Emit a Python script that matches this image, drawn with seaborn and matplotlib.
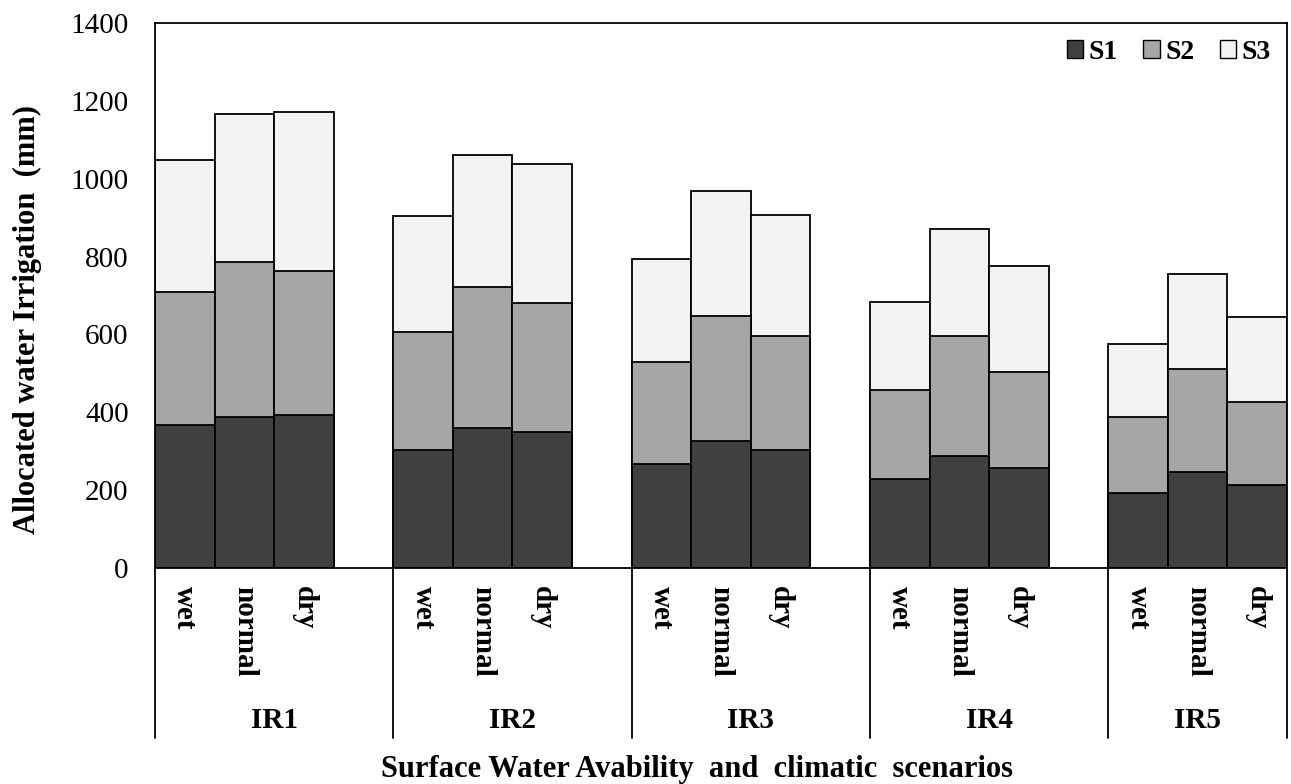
import matplotlib
matplotlib.use("Agg")
import matplotlib.pyplot as plt
import pandas as pd
import seaborn as sns
from matplotlib.patches import Patch

# values (mm), one entry per group x scenario
groups = ["IR1", "IR2", "IR3", "IR4", "IR5"]
scenarios = ["wet", "normal", "dry"]
s1 = [368, 389, 394, 304, 360, 350, 268, 327, 304, 229, 288, 257, 193, 247, 214]
s2 = [342, 398, 370, 301, 363, 332, 262, 321, 293, 227, 309, 247, 196, 265, 213]
s3 = [337, 379, 407, 298, 337, 355, 265, 320, 311, 228, 275, 273, 187, 242, 219]
series = ["S1", "S2", "S3"]
colors = {"S1": "#404040", "S2": "#a6a6a6", "S3": "#f2f2f2"}

sns.set_theme(style="white")
plt.rcParams["font.family"] = ["Liberation Serif", "DejaVu Serif"]
plt.rcParams["text.color"] = "black"
plt.rcParams["xtick.color"] = "black"
plt.rcParams["ytick.color"] = "black"
plt.rcParams["xtick.labelcolor"] = "black"
plt.rcParams["ytick.labelcolor"] = "black"

rows = []
for gi, g in enumerate(groups):
    for si, sc in enumerate(scenarios):
        k = gi * 3 + si
        rows.append({"group": g, "scenario": sc, "pos": gi * 4 + si,
                     "S1": s1[k], "S2": s2[k], "S3": s3[k]})
df = pd.DataFrame(rows)
# cumulative tops, drawn tallest first so the stack shows through
df["top1"] = df["S1"]
df["top2"] = df["top1"] + df["S2"]
df["top3"] = df["top2"] + df["S3"]

W, H = 1291, 784
fig = plt.figure(figsize=(W / 100, H / 100), dpi=100)
ax = fig.add_axes([155 / W, 1 - 568 / H, (1287 - 155) / W, (568 - 23) / H])

for col, name in [("top3", "S3"), ("top2", "S2"), ("top1", "S1")]:
    sns.barplot(data=df, x="pos", y=col, native_scale=True, width=1,
                color=colors[name], saturation=1, errorbar=None,
                edgecolor="black", linewidth=1.3, ax=ax)

ax.set_xlim(-0.5, 18.5)
ax.set_ylim(0, 1400)
ax.set_yticks(range(0, 1401, 200))
ax.tick_params(axis="y", length=0, pad=19, labelsize=21, labelcolor="black")
ax.set_xticks(df["pos"])
ax.set_xticklabels(df["scenario"], rotation=-90, fontweight="bold", fontsize=21,
                   va="top", ha="center")
ax.tick_params(axis="x", length=0, pad=13, labelcolor="black")
ax.set_xlabel("")
ax.set_ylabel("")
for sp in ax.spines.values():
    sp.set_visible(True)
    sp.set_color("black")
    sp.set_linewidth(1.3)

# group separators and group names under the axis
trans = ax.get_xaxis_transform()
drop = (738 - 568) / 545
bounds = [-0.5, 3.5, 7.5, 11.5, 15.5, 18.5]
for xv in bounds:
    ax.plot([xv, xv], [0, -drop], color="black", lw=1.3, transform=trans, clip_on=False)
for gi, g in enumerate(groups):
    xc = (bounds[gi] + bounds[gi + 1]) / 2
    ax.text(xc, -(720 - 568) / 545, g, transform=trans, ha="center", va="center",
            fontsize=21, fontweight="bold")

fig.text(697 / W, 1 - 770 / H, "Surface Water Avability  and  climatic  scenarios",
         ha="center", va="center", fontsize=22, fontweight="bold")
fig.text(27 / W, 1 - 320 / H, "Allocated water Irrigation  (mm)", rotation=90,
         ha="center", va="center", fontsize=22, fontweight="bold")

handles = [Patch(facecolor=colors[s], edgecolor="black", linewidth=1.0) for s in series]
ax.legend(handles, series, loc="upper right", bbox_to_anchor=(1.008, 1.015), ncol=3,
          frameon=False, handlelength=0.6, handleheight=0.6, handletextpad=0.2,
          columnspacing=0.9, prop={"weight": "bold", "size": 20,
                                   "family": "Liberation Serif"})

fig.savefig("out.png", dpi=100)
